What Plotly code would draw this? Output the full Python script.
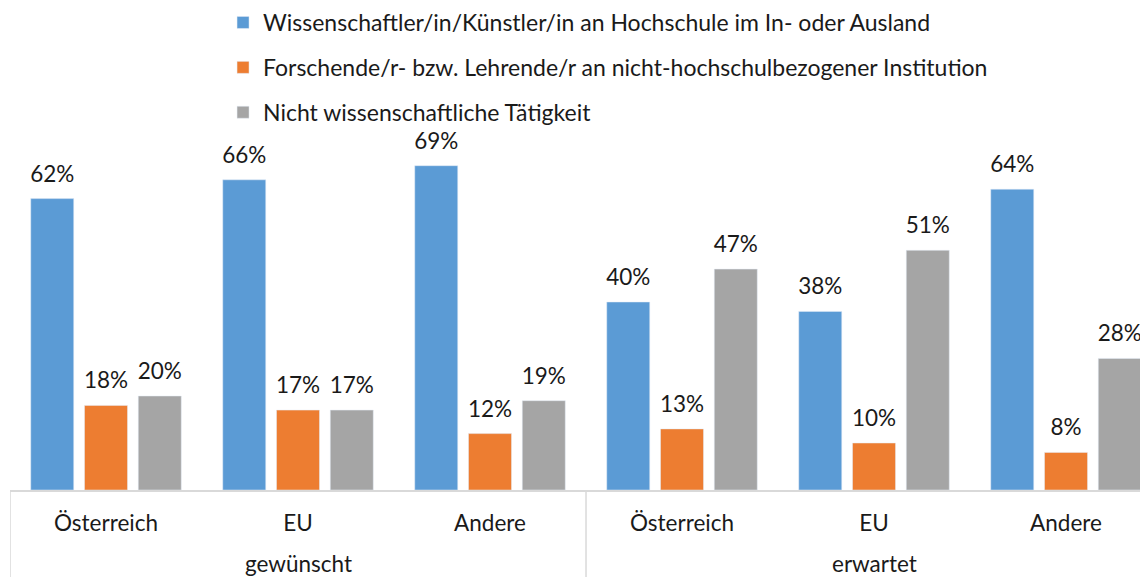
import plotly.graph_objects as go

categories = ["gewünscht Österreich", "gewünscht EU", "gewünscht Andere",
              "erwartet Österreich", "erwartet EU", "erwartet Andere"]
region_labels = ["Österreich", "EU", "Andere", "Österreich", "EU", "Andere"]
group_labels = ["gewünscht", "erwartet"]

series_names = [
    "Wissenschaftler/in/Künstler/in an Hochschule im In- oder Ausland",
    "Forschende/r- bzw. Lehrende/r an nicht-hochschulbezogener Institution",
    "Nicht wissenschaftliche Tätigkeit",
]
wiss = [62, 66, 69, 40, 38, 64]
forsch = [18, 17, 12, 13, 10, 8]
nicht = [20, 17, 19, 47, 51, 28]
colors = ["#5B9BD5", "#ED7D31", "#A5A5A5"]

FONT = "Lato"
FS = 22.5
TXT = "#1a1a1a"
LINE = "#d9d9d9"

def label(v):
    # value label with a tiny spacer line so it sits a little higher above the bar
    return f'<span style="font-size:{FS}px">{v}%</span><br><span style="font-size:1px">\u00a0</span>'

fig = go.Figure()
for i, (name, vals) in enumerate(zip(series_names, [wiss, forsch, nicht])):
    fig.add_trace(go.Bar(
        x=categories, y=vals, name=name,
        marker=dict(color=colors[i]),
        legendgroup=f"g{i}",
        text=[label(v) for v in vals], textposition="outside",
        textfont=dict(family=FONT, size=10.8, color=TXT),
        constraintext="none",
        cliponaxis=False,
    ))

# group labels under the category labels
for gi, g in enumerate(group_labels):
    fig.add_annotation(x=1 + 3 * gi, y=-0.196, xref="x", yref="paper",
                       text=g, showarrow=False, yanchor="middle",
                       font=dict(family=FONT, size=FS, color=TXT))

# group dividers
for xd in [-0.5, 2.5]:
    fig.add_shape(type="line", xref="x", yref="paper", x0=xd, x1=xd,
                  y0=0, y1=-0.25, line=dict(color=LINE, width=1.5))

fig.update_layout(
    width=1140, height=569,
    margin=dict(l=2, r=0, t=106, b=87, autoexpand=False),
    paper_bgcolor="white", plot_bgcolor="white",
    barmode="group", bargap=0.16, bargroupgap=0.2,
    font=dict(family=FONT, size=FS, color=TXT),
    showlegend=True,
    legend=dict(orientation="v", x=0.1872, xanchor="left", y=1.3005, yanchor="top",
                yref="paper", tracegroupgap=12,
                font=dict(family=FONT, size=23, color=TXT),
                bgcolor="rgba(0,0,0,0)"),
    xaxis=dict(type="category", range=[-0.5, 5.427], showline=True,
               linecolor=LINE, linewidth=1.5, ticks="", showgrid=False,
               tickmode="array", tickvals=categories, ticktext=region_labels,
               ticklabelstandoff=12,
               tickfont=dict(family=FONT, size=FS, color=TXT)),
    yaxis=dict(range=[0, 80], visible=False, showgrid=False),
)

fig.write_html("out.html")
